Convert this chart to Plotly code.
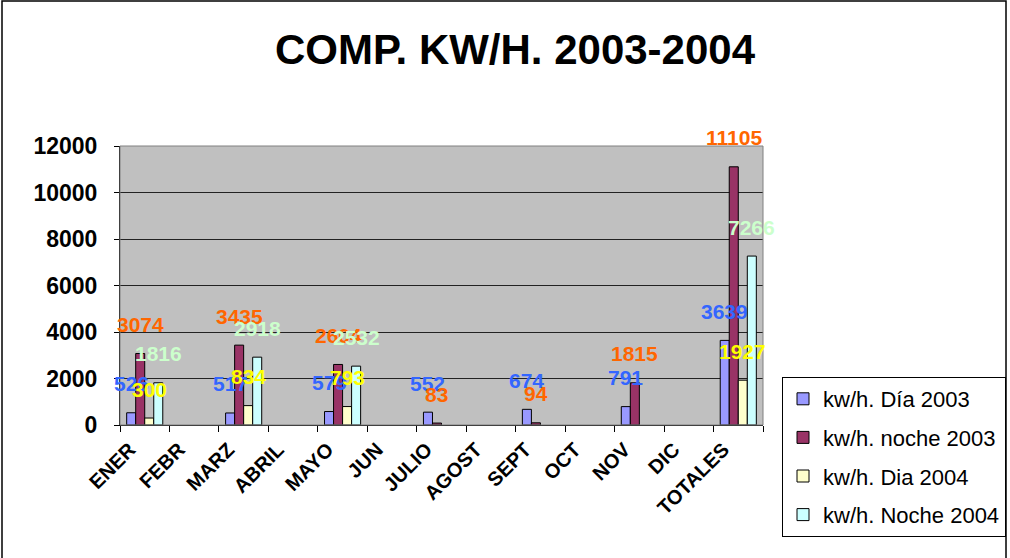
import plotly.graph_objects as go

categories = ["ENER", "FEBR", "MARZ", "ABRIL", "MAYO", "JUN", "JULIO",
              "AGOST", "SEPT", "OCT", "NOV", "DIC", "TOTALES"]
dia_2003 = [526, None, 517, None, 579, None, 552, None, 674, None, 791, None, 3639]
noche_2003 = [3074, None, 3435, None, 2604, None, 83, None, 94, None, 1815, None, 11105]
dia_2004 = [300, None, 834, None, 793, None, None, None, None, None, None, None, 1927]
noche_2004 = [1816, None, 2918, None, 2532, None, None, None, None, None, None, None, 7266]
series_names = ["kw/h. Día 2003", "kw/h. noche 2003", "kw/h. Dia 2004", "kw/h. Noche 2004"]
y_ticks = [0, 2000, 4000, 6000, 8000, 10000, 12000]

series = [dia_2003, noche_2003, dia_2004, noche_2004]
bar_colors = ["#9999FF", "#993366", "#FFFFCC", "#CCFFFF"]
label_colors = ["#3366FF", "#FF6600", "#FFFF00", "#CCFFCC"]

W, H = 1010, 558
ML, MR, MT, MB = 120, W - 763, 146, H - 425
PW, PH = W - ML - MR, H - MT - MB
FONT = "Arial, Liberation Sans, sans-serif"

fig = go.Figure()
for i, (name, vals) in enumerate(zip(series_names, series)):
    fig.add_trace(go.Bar(
        x=categories, y=vals, name=name,
        marker=dict(color=bar_colors[i], line=dict(color="black", width=1)),
        legendgroup=f"g{i}",
    ))

# data labels
cat_px = PW / len(categories)
bar_px = cat_px * (1 - 0.27) / 4
annotations = []
for i, vals in enumerate(series):
    for c, v in zip(categories, vals):
        if v is None:
            continue
        annotations.append(dict(
            x=c, y=v, xref="x", yref="y", text=f"<b>{v}</b>", showarrow=False,
            xshift=(i - 1.5) * bar_px, yshift=29,
            font=dict(family=FONT, size=21, color=label_colors[i]),
        ))

def px_x(px):
    return (px - ML) / PW

def px_y(py):
    return (H - MB - py) / PH

shapes = [
    dict(type="rect", xref="paper", yref="paper", x0=0, x1=1, y0=0, y1=1,
         line=dict(color="#808080", width=1), layer="above"),
    dict(type="rect", xref="paper", yref="paper",
         x0=px_x(2), x1=px_x(1006), y0=px_y(570), y1=px_y(1),
         line=dict(color="black", width=1.5)),
]

fig.update_layout(
    width=W, height=H,
    margin=dict(l=ML, r=MR, t=MT, b=MB, autoexpand=False),
    paper_bgcolor="white", plot_bgcolor="#C0C0C0",
    barmode="group", bargap=0.27, bargroupgap=0,
    title=dict(text="<b>COMP. KW/H. 2003-2004</b>", x=515 / W,
               xanchor="center", y=1 - 49 / H, yanchor="middle",
               font=dict(family=FONT, size=42, color="black")),
    font=dict(family=FONT, color="black"),
    legend=dict(x=px_x(782), y=px_y(377), xanchor="left", yanchor="top",
                bordercolor="black", borderwidth=1, bgcolor="white",
                font=dict(family=FONT, size=22, color="black"),
                traceorder="grouped", tracegroupgap=7, itemwidth=30),
    annotations=annotations,
    shapes=shapes,
    showlegend=True,
)
fig.update_xaxes(
    type="category", range=[-0.5, len(categories) - 0.5], autorange=False,
    tickangle=-45, tickson="boundaries", ticks="outside", automargin=False,
    ticklen=6, tickcolor="black", showline=True, linecolor="black", linewidth=1,
    tickfont=dict(family=FONT, size=20, color="black", weight="bold"),
    ticklabelshift=-15, ticklabelstandoff=4,
    showgrid=False,
)
fig.update_yaxes(
    range=[0, 12000], tickvals=y_ticks, ticktext=[f"<b>{t}</b>" for t in y_ticks],
    ticks="outside", ticklen=5, tickcolor="black", automargin=False,
    showline=True, linecolor="black", linewidth=1,
    showgrid=True, gridcolor="#222222", gridwidth=1,
    tickfont=dict(family=FONT, size=23, color="black"),
    ticklabelstandoff=12, zeroline=False,
)

fig.write_html("out.html", config={"displayModeBar": False})

# remove the default page margin so the figure sits at the window's corner
with open("out.html", encoding="utf-8") as f:
    html = f.read()
html = html.replace("<head>", "<head><style>html,body{margin:0;padding:0;overflow:hidden;}</style>", 1)
with open("out.html", "w", encoding="utf-8") as f:
    f.write(html)
